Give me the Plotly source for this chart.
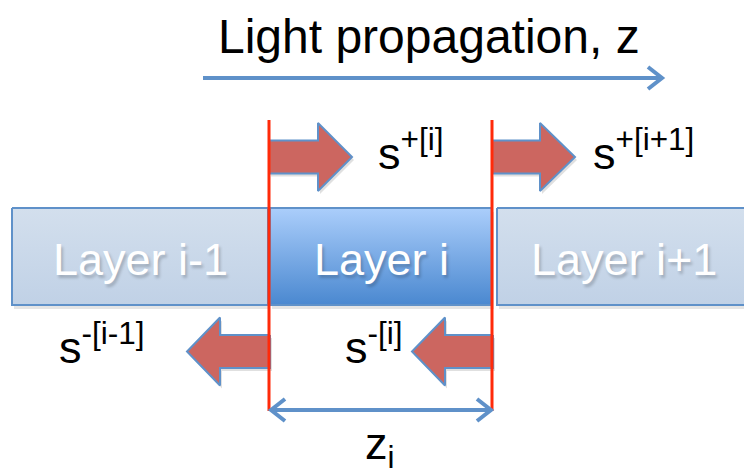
import plotly.graph_objects as go

# labels shown in the diagram
title_text = "Light propagation, z"
layer_names = ["Layer i-1", "Layer i", "Layer i+1"]
forward_labels = ["s<sup>+[i]</sup>", "s<sup>+[i+1]</sup>"]
backward_labels = ["s<sup>-[i-1]</sup>", "s<sup>-[i]</sup>"]
thickness_label = "z<sub>i</sub>"

# geometry (page pixels, y downwards)
W, H = 744, 469
layer_x = [(12, 268), (270, 492), (497, 752)]
layer_y = (208, 305)
boundary_x = [269, 492]
boundary_y = (120, 411)

BLUE = "#5f91c9"
RED_FILL = "#cc6660"
RED_LINE = "#ff2a0a"
FONT = "Liberation Sans, Arial, Helvetica, sans-serif"

fig = go.Figure()


def poly(xs, ys, **kw):
    fig.add_trace(go.Scatter(x=xs + [xs[0]], y=ys + [ys[0]], mode="lines",
                             fill="toself", hoverinfo="skip", showlegend=False, **kw))


def line(xs, ys, color, width):
    fig.add_trace(go.Scatter(x=xs, y=ys, mode="lines", hoverinfo="skip", showlegend=False,
                             line=dict(color=color, width=width)))


def block_arrow(x0, xb, xt, yc, bh=16.5, hh=34):
    xs = [x0, xb, xb, xt, xb, xb, x0]
    ys = [yc - bh, yc - bh, yc - hh, yc, yc + hh, yc + bh, yc + bh]
    # faint shadow
    poly([x + 2 for x in xs], [y + 3 for y in ys], fillcolor="rgba(0,0,0,0.12)",
         line=dict(width=0, color="rgba(0,0,0,0)"))
    poly(xs, ys, fillcolor=RED_FILL, line=dict(color=BLUE, width=2))


# layers
y0, y1 = layer_y
for i, (a, b) in enumerate(layer_x):
    if i == 1:
        scale = [[0, "#abcefb"], [1, "#4a88d0"]]
    else:
        scale = [[0, "#d3dfed"], [1, "#c0d1e6"]]
    poly([a + 2, b + 2, b + 2, a + 2], [y0 + 4, y0 + 4, y1 + 4, y1 + 4],
         fillcolor="rgba(0,0,0,0.10)", line=dict(width=0, color="rgba(0,0,0,0)"))
    poly([a, b, b, a], [y0, y0, y1, y1],
         fillgradient=dict(type="vertical", colorscale=scale, start=y0, stop=y1),
         line=dict(color=BLUE, width=2))

# flux arrows
block_arrow(269, 318, 352, 157)
block_arrow(492, 540, 575, 157)
block_arrow(270, 220, 187, 351.5)
block_arrow(493, 445, 412, 351.5)

# boundaries
for bx in boundary_x:
    line([bx, bx], list(boundary_y), RED_LINE, 3)

# propagation arrow
line([203, 662], [78, 78], BLUE, 4)
line([648, 662, 648], [67, 78, 89], BLUE, 4)

# thickness arrow
line([271, 491], [410, 410], BLUE, 4)
line([285, 271, 285], [399, 410, 421], BLUE, 4)
line([477, 491, 477], [399, 410, 421], BLUE, 4)

annotations = [
    dict(x=429, y=36, text=title_text, font=dict(size=48, color="black")),
]
for (a, b), name in zip(layer_x, layer_names):
    cx = (a + min(b, W)) / 2 + (3 if name == layer_names[2] else 0)
    annotations.append(dict(x=cx, y=259, text=name,
                            font=dict(size=45, color="white", shadow="2px 3px 3px rgba(0,0,0,0.2)")))
annotations += [
    dict(x=410, y=150, text=forward_labels[0], font=dict(size=45, color="black")),
    dict(x=643, y=150, text=forward_labels[1], font=dict(size=45, color="black")),
    dict(x=102, y=344, text=backward_labels[0], font=dict(size=45, color="black")),
    dict(x=374, y=344, text=backward_labels[1], font=dict(size=45, color="black")),
    dict(x=380, y=446, text=thickness_label, font=dict(size=45, color="black")),
]
for an in annotations:
    an.update(xref="x", yref="y", showarrow=False, xanchor="center", yanchor="middle")
    an["font"]["family"] = FONT

fig.update_layout(
    width=W, height=H, margin=dict(l=0, r=0, t=0, b=0),
    paper_bgcolor="white", plot_bgcolor="white",
    xaxis=dict(range=[0, W], visible=False, fixedrange=True),
    yaxis=dict(range=[H, 0], visible=False, fixedrange=True),
    annotations=annotations, showlegend=False,
)

fig.write_html("out.html", config=dict(displayModeBar=False),
               post_script="document.body.style.margin='0';document.body.style.overflow='hidden';")
